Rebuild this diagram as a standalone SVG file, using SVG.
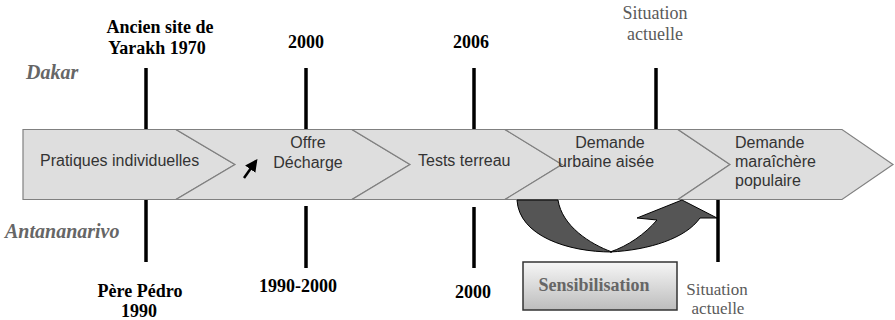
<svg xmlns="http://www.w3.org/2000/svg" width="895" height="320" viewBox="0 0 895 320">
<style>
.chev{fill:#dedede;stroke:#808080;stroke-width:1.2}
.tick{stroke:#000;stroke-width:3.5}
.lbl{font-family:"Liberation Serif",serif;font-weight:bold;font-size:18px;fill:#000;text-anchor:middle}
.sit{font-family:"Liberation Serif",serif;font-size:18px;fill:#5a5a5a;text-anchor:middle}
.sitb{font-family:"Liberation Serif",serif;font-size:17px;fill:#5a5a5a;text-anchor:middle}
.city{font-family:"Liberation Serif",serif;font-weight:bold;font-style:italic;font-size:20px;fill:#666}
.ct{font-family:"Liberation Sans",Arial,sans-serif;font-size:16px;fill:#333}
</style>
<defs>
<linearGradient id="g" x1="0" y1="0" x2="0" y2="1">
<stop offset="0" stop-color="#f6f6f6"/>
<stop offset="1" stop-color="#bdbdbd"/>
</linearGradient>
<marker id="ah" viewBox="0 0 10 10" refX="8" refY="5" markerWidth="5" markerHeight="5" orient="auto">
<path d="M0,0 L10,5 L0,10 Z" fill="#000"/>
</marker>
</defs>

<g id="connectors">
<line class="tick" x1="146" y1="68" x2="146" y2="130"/>
<line class="tick" x1="306" y1="68" x2="306" y2="130"/>
<line class="tick" x1="474" y1="68" x2="474" y2="130"/>
<line class="tick" x1="656" y1="68" x2="656" y2="130"/>
<line class="tick" x1="146" y1="199" x2="146" y2="262"/>
<line class="tick" x1="306" y1="206" x2="306" y2="268"/>
<line class="tick" x1="474" y1="207" x2="474" y2="268"/>
<line class="tick" x1="718" y1="200" x2="718" y2="262"/>
</g>

<g id="chevron1">
<polygon class="chev" points="23,129.5 176,129.5 235,164.5 176,199.5 23,199.5"/>
<text class="ct" x="40" y="166">Pratiques individuelles</text>
</g>
<g id="chevron2">
<polygon class="chev" points="176,129.5 352,129.5 410,164.5 352,199.5 176,199.5 235,164.5"/>
<text class="ct" x="308" y="148" text-anchor="middle">Offre</text>
<text class="ct" x="308" y="168" text-anchor="middle">Décharge</text>
<line x1="244" y1="178" x2="256" y2="161" stroke="#000" stroke-width="2.5" marker-end="url(#ah)"/>
</g>
<g id="chevron3">
<polygon class="chev" points="352,129.5 505,129.5 562,164.5 505,199.5 352,199.5 410,164.5"/>
<text class="ct" x="418" y="166">Tests terreau</text>
</g>
<g id="chevron4">
<polygon class="chev" points="505,129.5 678,129.5 730,164.5 678,199.5 505,199.5 562,164.5"/>
<text class="ct" x="610" y="148" text-anchor="middle">Demande</text>
<text class="ct" x="558" y="167">urbaine aisée</text>
</g>
<g id="chevron5">
<polygon class="chev" points="678,129.5 842,129.5 893,164.5 842,199.5 678,199.5 730,164.5"/>
<text class="ct" x="735" y="148" fill="#111">Demande</text>
<text class="ct" x="735" y="167" fill="#111">maraîchère</text>
<text class="ct" x="735" y="186" fill="#111">populaire</text>
</g>

<g id="cycle-arrow">
<path d="M517,200 C519,236 568,252 612,252 C590,244 562,226 558,200 Z" fill="#555" stroke="#000" stroke-width="1"/>
<path d="M610,252 C650,250 686,238 700,218 L717,218 L682,200 L637,218 L657,220 C645,234 628,246 610,252 Z" fill="#555" stroke="#000" stroke-width="1"/>
</g>

<g id="labels-dakar">
<text class="city" x="26" y="79">Dakar</text>
<text class="lbl" x="160" y="33">Ancien site de</text>
<text class="lbl" x="157" y="54">Yarakh 1970</text>
<text class="lbl" x="306" y="48">2000</text>
<text class="lbl" x="471" y="48">2006</text>
<text class="sit" x="655" y="19">Situation</text>
<text class="sit" x="655" y="40">actuelle</text>
</g>

<g id="labels-antananarivo">
<text class="city" x="5" y="238">Antananarivo</text>
<text class="lbl" x="140" y="297">Père Pédro</text>
<text class="lbl" x="139" y="317">1990</text>
<text class="lbl" x="298" y="292">1990-2000</text>
<text class="lbl" x="473" y="298">2000</text>
<text class="sitb" x="717" y="295">Situation</text>
<text class="sitb" x="718" y="314">actuelle</text>
</g>

<g id="sensibilisation">
<rect x="523" y="262" width="154" height="48" fill="url(#g)" stroke="#333" stroke-width="1.5"/>
<text class="lbl" x="594" y="291" style="fill:#666">Sensibilisation</text>
</g>
</svg>
